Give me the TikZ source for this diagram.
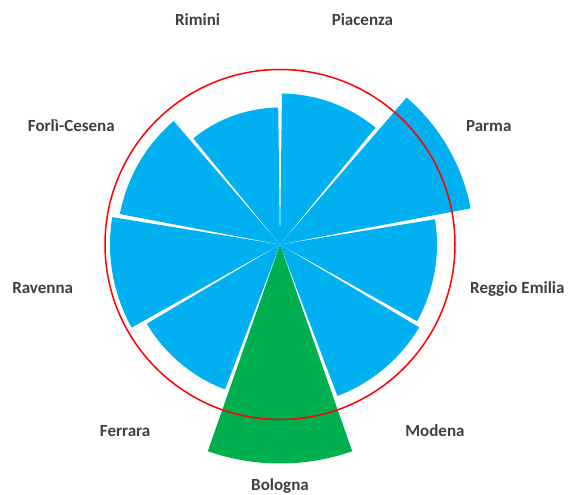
\documentclass[tikz,border=0pt]{standalone}
\usepackage{fontspec}
\setmainfont{Carlito}
\definecolor{blu}{HTML}{00B0F0}
\definecolor{grn}{HTML}{00B050}
\definecolor{lbl}{HTML}{404040}
\tikzset{
  lab/.style={font=\fontsize{17}{20}\selectfont\bfseries, text=lbl, inner sep=0pt, text height=11pt, text depth=0pt, anchor=center},
  ring/.style={draw=red, line width=1.5pt}
}
\begin{document}
\begin{tikzpicture}[x=1pt,y=1pt]
\useasboundingbox (0,0) rectangle (568,495);
\begin{scope}[shift={(280,250.5)}]
  \foreach \i/\r/\c in {0/151/blu,1/194/blu,2/157/blu,3/162/blu,4/219/grn,5/155/blu,6/170/blu,7/163/blu,8/137/blu}{
    \pgfmathsetmacro{\sa}{90-40*\i-0.75}
    \pgfmathsetmacro{\ea}{50-40*\i+0.75}
    \fill[\c] (0,0) -- (\sa:\r) arc[start angle=\sa, end angle=\ea, radius=\r] -- cycle;
  }
  \draw[ring] (0,0) circle[radius=175];
  \coordinate (ctr) at (0,0);
  \foreach \i/\t/\n/\ys in {0/Piacenza/pc/-2,1/Parma/pr/-2,2/Reggio Emilia/re/-2,3/Modena/mo/-2,4/Bologna/bo/0,5/Ferrara/fe/-2,6/Ravenna/ra/-2,7/Forlì-Cesena/fc/-2,8/Rimini/ri/-2}{
    \pgfmathsetmacro{\la}{70-40*\i}
    \node[lab, yshift=\ys pt] (\n) at (\la:241) {\t};
  }
\end{scope}
\end{tikzpicture}
\end{document}
